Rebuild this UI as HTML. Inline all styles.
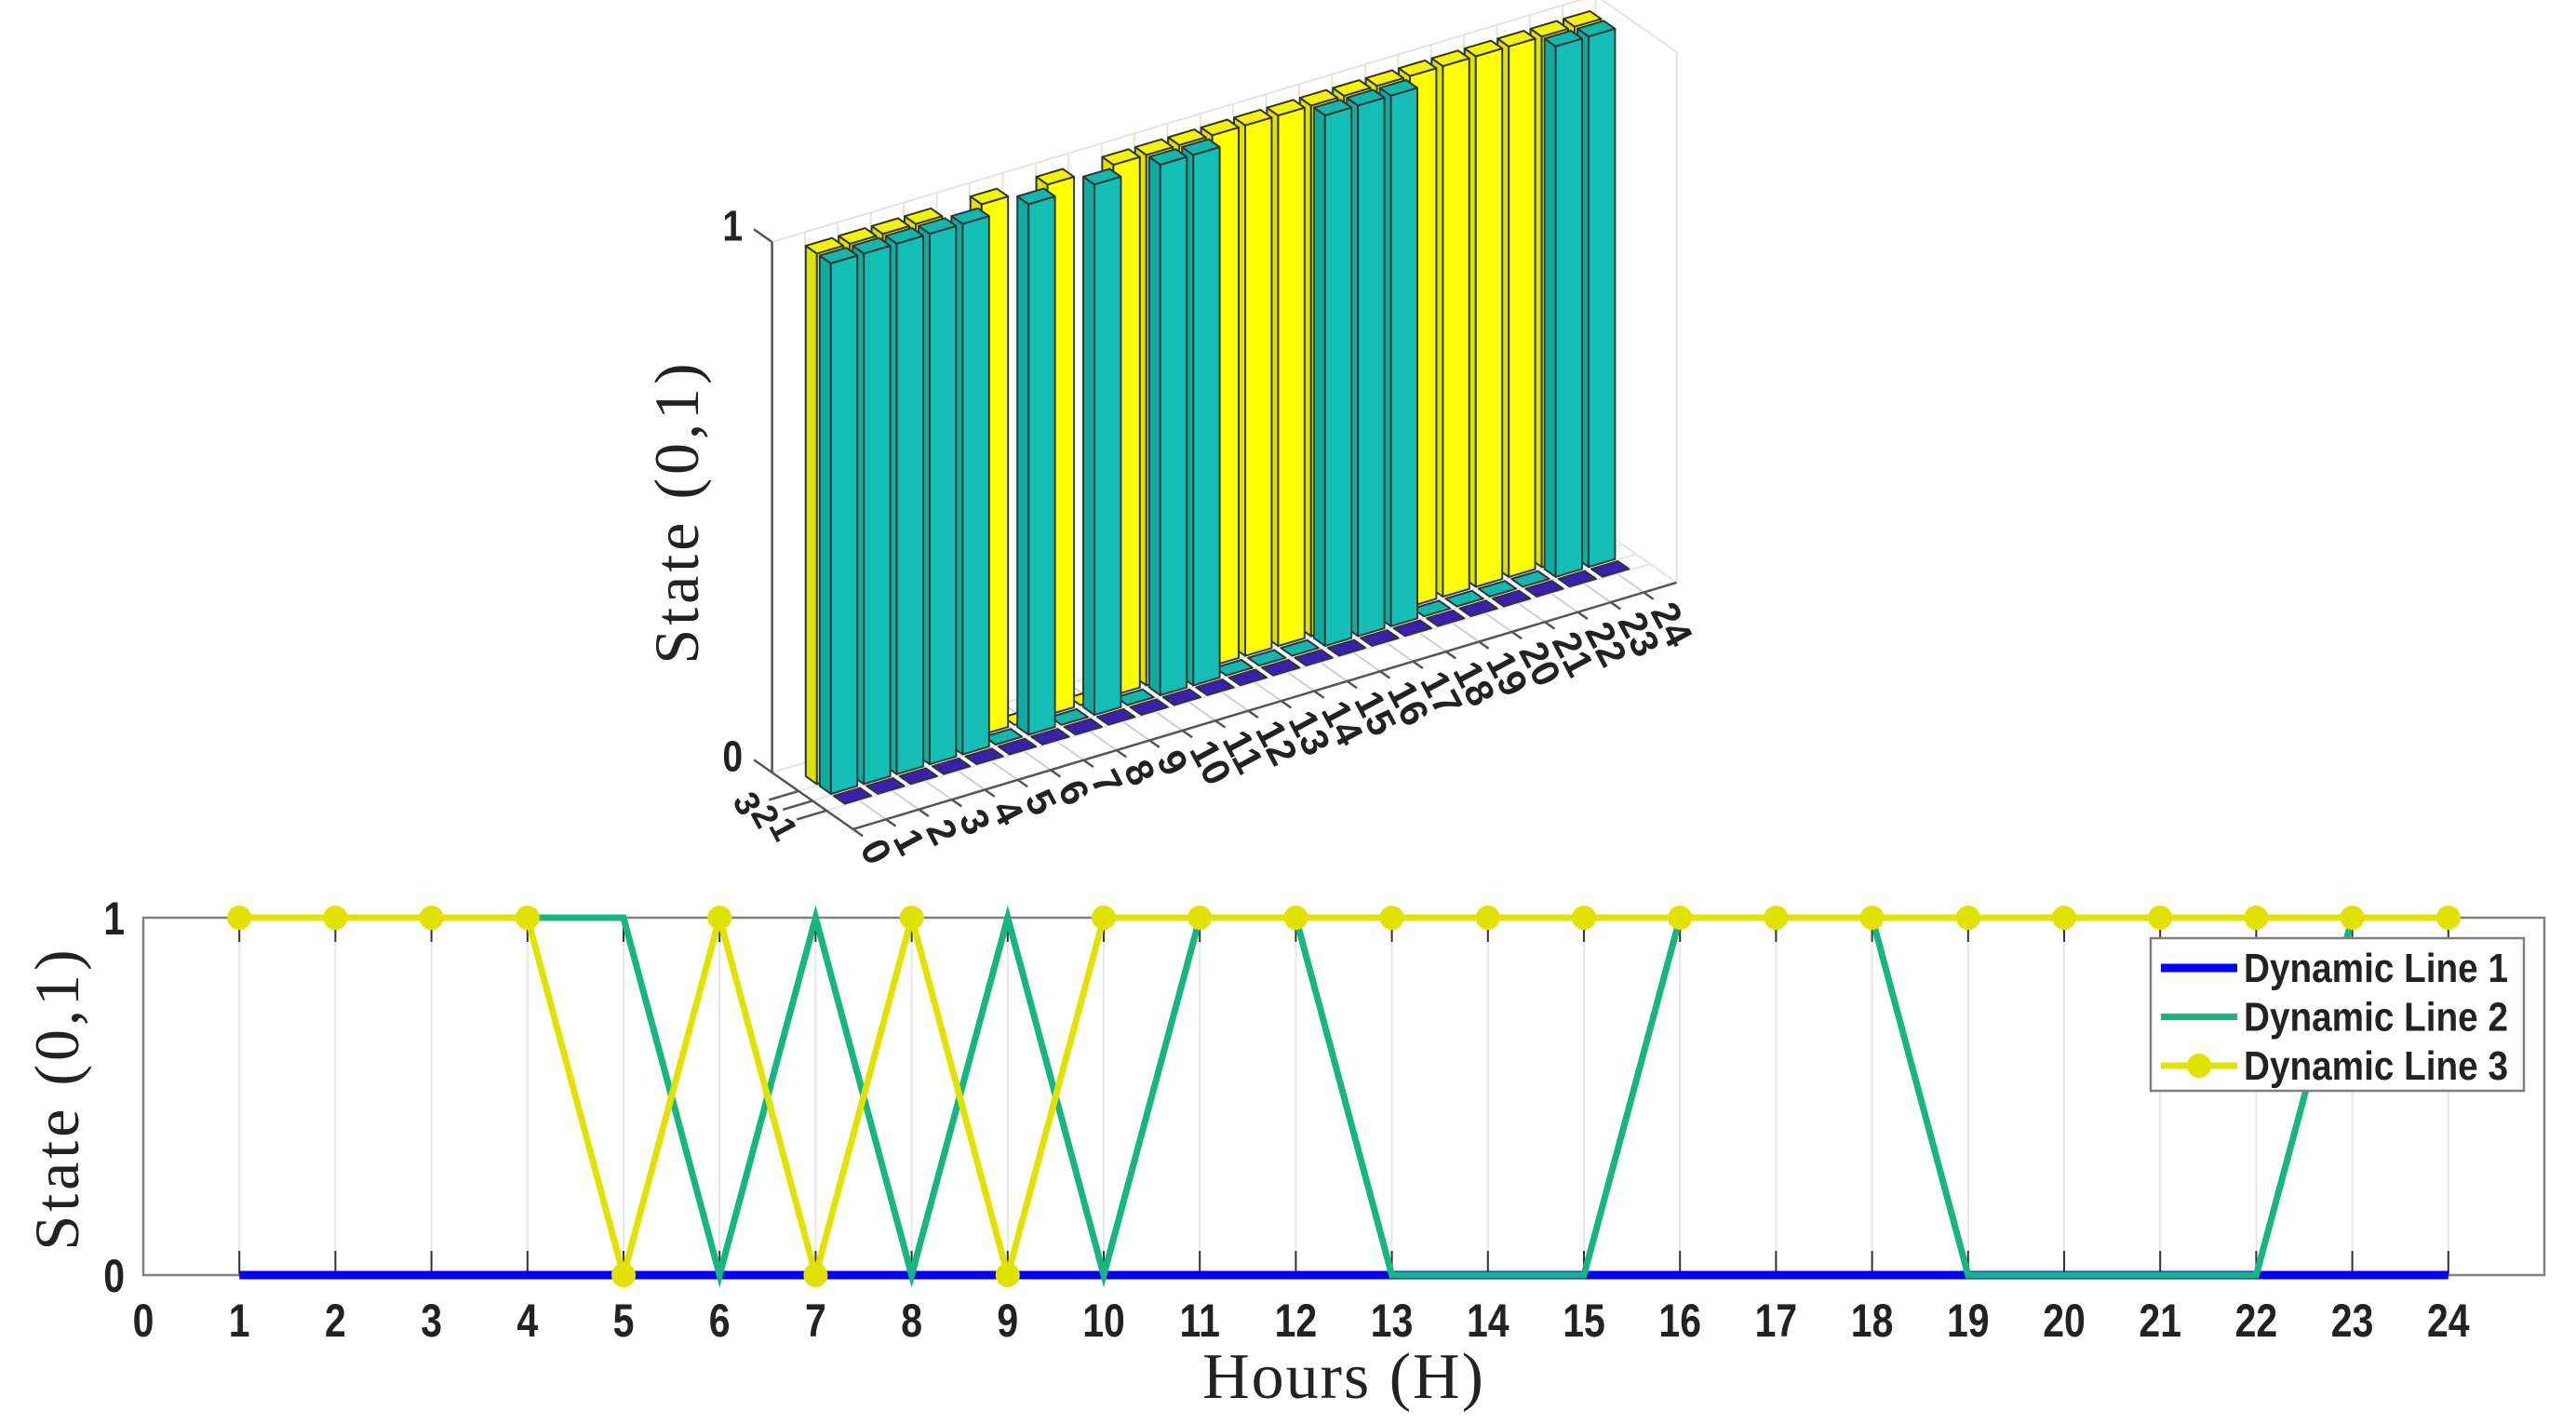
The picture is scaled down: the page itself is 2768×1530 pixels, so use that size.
<!DOCTYPE html>
<html><head><meta charset="utf-8">
<style>
html,body{margin:0;padding:0;background:#fff;}
svg{display:block;}
.tick{font-family:"Liberation Sans",sans-serif;font-weight:bold;fill:#222;}
.lab{font-family:"Liberation Serif",serif;fill:#222;}
</style></head>
<body>
<svg id="fig" width="2768" height="1530" viewBox="0 0 2768 1530" xmlns="http://www.w3.org/2000/svg">
  <g id="top3d"></g>
  <g id="bottom"></g>
</svg>
<script>
const hours = [1,2,3,4,5,6,7,8,9,10,11,12,13,14,15,16,17,18,19,20,21,22,23,24];
const line1 = [0,0,0,0,0,0,0,0,0,0,0,0,0,0,0,0,0,0,0,0,0,0,0,0];
const line2 = [1,1,1,1,1,0,1,0,1,0,1,1,0,0,0,1,1,1,0,0,0,0,1,1];
const line3 = [1,1,1,1,0,1,0,1,0,1,1,1,1,1,1,1,1,1,1,1,1,1,1,1];
const xTickLabels = ["0","1","2","3","4","5","6","7","8","9","10","11","12","13","14","15","16","17","18","19","20","21","22","23","24"];
const depthTickLabels = ["3","2","1"];
const seriesNames = ["Dynamic Line 1","Dynamic Line 2","Dynamic Line 3"];

const NS = "http://www.w3.org/2000/svg";
function mk(tag, attrs, parent){
  const e = document.createElementNS(NS, tag);
  for (const k in attrs) e.setAttribute(k, attrs[k]);
  parent.appendChild(e);
  return e;
}

/* ---------- 3D bar chart ---------- */
const g3 = document.getElementById('top3d');
const BX = 850.6, BY = 844.7, UX = 35.4, UY = -10.6, FX = 15, FY = 10.5, ZH = 570;
function P(h, d, z){ return [BX + UX*h + FX*d, BY + UY*h + FY*d - ZH*z]; }
function pts(arr){ return arr.map(p => p[0].toFixed(1)+','+p[1].toFixed(1)).join(' '); }
const H0 = 0, H1 = 25, D0 = -1.4, D1 = 4.4;
const gridC = '#e3e3e3';
for (let h = 0; h <= 24; h++) {
  const a = P(h, D0, 0), b = P(h, D0, 1);
  const l = mk('line', {x1:a[0],y1:a[1],x2:b[0],y2:b[1],stroke:gridC,'stroke-width':2}, g3);
  
  
}
[[P(H0,D0,1),P(H1,D0,1)],[P(H1,D0,1),P(H1,D1,1)],[P(H1,D0,0),P(H1,D0,1)],[P(H1,D1,0),P(H1,D1,1)],[P(H0,D0,0),P(H1,D0,0)],[P(H1,D0,0),P(H1,D1,0)]].forEach(s => {
  const l = mk('line', {x1:s[0][0],y1:s[0][1],x2:s[1][0],y2:s[1][1],stroke:gridC,'stroke-width':2}, g3);
  
  
});
for (let h = 0; h <= 24; h++) {
  const a = P(h, D0, 0), b = P(h, D1, 0);
  const l = mk('line', {x1:a[0],y1:a[1],x2:b[0],y2:b[1],stroke:'#d0d0d0','stroke-width':2}, g3);
  
  
}
for (let k = 0; k < 3; k++) {
  const a = P(H0, k+0.5, 0), b = P(H1, k+0.5, 0);
  const l = mk('line', {x1:a[0],y1:a[1],x2:b[0],y2:b[1],stroke:'#e6e6e6','stroke-width':2}, g3);
  
  
}
{
  const a = P(H0, D0, 0), b = P(H0, D0, 1);
  const l = mk('line', {x1:a[0],y1:a[1],x2:b[0],y2:b[1],stroke:'#555','stroke-width':2.5}, g3);
  
  
  [[0,"0"],[1,"1"]].forEach(t => {
    const p = P(H0, D0, t[0]), q = P(H0, D0-1.3, t[0]);
    const tl = mk('line', {x1:p[0],y1:p[1],x2:q[0],y2:q[1],stroke:'#555','stroke-width':2.5}, g3);
    
    
    const tx = mk('text', {x:0,y:0,'text-anchor':'end','font-size':46,'class':'tick',transform:`translate(${q[0]-12} ${q[1]+12}) scale(0.85 1)`}, g3);
    tx.textContent = t[1];
    
    
  });
}
[[P(H0,D1,0),P(H1,D1,0)],[P(H0,D0,0),P(H0,D1,0)]].forEach(s => {
  const l = mk('line', {x1:s[0][0],y1:s[0][1],x2:s[1][0],y2:s[1][1],stroke:'#555','stroke-width':2.5}, g3);
  
  
});
xTickLabels.forEach((lab, i) => {
  const a = P(i, D1, 0), b = P(i, D1+0.7, 0);
  const l = mk('line', {x1:a[0],y1:a[1],x2:b[0],y2:b[1],stroke:'#555','stroke-width':2.5}, g3);
  
  
  const p = P(i, D1+1.3, 0);
  const t = mk('text', {x:p[0],y:p[1],'font-size':42,'class':'tick','dominant-baseline':'central',transform:`rotate(62 ${p[0]} ${p[1]})`}, g3);
  t.textContent = lab;
  
  
});
depthTickLabels.forEach((lab, k) => {
  const a = P(H0, k+0.5, 0), b = P(H0-0.9, k+0.5, 0);
  const l = mk('line', {x1:a[0],y1:a[1],x2:b[0],y2:b[1],stroke:'#555','stroke-width':2.5}, g3);
  
  
  const p = P(H0-1.5, k*1.3+0.3, 0);
  const t = mk('text', {x:p[0],y:p[1],'font-size':38,'class':'tick','text-anchor':'middle','dominant-baseline':'central',transform:`rotate(62 ${p[0]} ${p[1]})`}, g3);
  t.textContent = lab;
  
  
});
const barSeries = [
  {vals: line3, d: 0, front:'#ffff00', side:'#e2e200', top:'#f4f400', name:'bar-line3'},
  {vals: line2, d: 1, front:'#13bfb5', side:'#10aaa1', top:'#12b8ae', name:'bar-line2'},
  {vals: line1, d: 2, front:'#3a22b8', side:'#2f1a9c', top:'#3b1fb2', name:'bar-line1'}
];
const bw = 0.4, bd = 0.4;
barSeries.forEach(s => {
  for (let i = hours.length - 1; i >= 0; i--) {
    const h = hours[i], v = s.vals[i], d = s.d;
    const g = mk('g', {}, g3);
    
    
    if (v > 0) {
      const left = [P(h-bw,d-bd,0),P(h-bw,d+bd,0),P(h-bw,d+bd,v),P(h-bw,d-bd,v)];
      const front = [P(h-bw,d+bd,0),P(h+bw,d+bd,0),P(h+bw,d+bd,v),P(h-bw,d+bd,v)];
      const pl = mk('polygon', {points:pts(left),fill:s.side,stroke:'#2b3a38','stroke-width':2,'stroke-linejoin':'round'}, g);
      
      
      const pf = mk('polygon', {points:pts(front),fill:s.front,stroke:'#2b3a38','stroke-width':2,'stroke-linejoin':'round'}, g);
      
      
    }
    const top = [P(h-bw,d-bd,v),P(h+bw,d-bd,v),P(h+bw,d+bd,v),P(h-bw,d+bd,v)];
    const pt = mk('polygon', {points:pts(top),fill:s.top,stroke:'#333','stroke-width':2,'stroke-linejoin':'round'}, g);
    
    
  }
});
{
  const t = mk('text', {x:0,y:0,'font-size':68,'class':'lab','text-anchor':'middle','letter-spacing':4,transform:'translate(750 550) rotate(-90)'}, g3);
  t.textContent = 'State (0,1)';
  
  
}

/* ---------- 2D line chart ---------- */
const g2 = document.getElementById('bottom');
const XL = 154, XS = 103.2, Y0 = 1370, Y1 = 986;
function xs(h){ return XL + h*XS; }
function ys(v){ return Y0 - v*(Y0-Y1); }
for (let h = 1; h <= 24; h++) {
  const l = mk('line', {x1:xs(h),y1:Y1,x2:xs(h),y2:Y0,stroke:'#e6e6e6','stroke-width':2}, g2);
  
  
  const t1 = mk('line', {x1:xs(h),y1:Y0,x2:xs(h),y2:Y0-26,stroke:'#333','stroke-width':2}, g2);
  
  
  const t2 = mk('line', {x1:xs(h),y1:Y1,x2:xs(h),y2:Y1+26,stroke:'#333','stroke-width':2}, g2);
  
  
}
{
  const r = mk('rect', {x:XL,y:Y1,width:xs(25)-XL,height:Y0-Y1,fill:'none',stroke:'#808080','stroke-width':2.5}, g2);
  
  
}
xTickLabels.forEach((lab, i) => {
  const t = mk('text', {x:0,y:0,'font-size':50,'class':'tick','text-anchor':'middle',transform:`translate(${xs(i)} 1436) scale(0.82 1)`}, g2);
  t.textContent = lab;
  
  
});
[[0,"0"],[1,"1"]].forEach(t => {
  const tx = mk('text', {x:0,y:0,'font-size':50,'class':'tick','text-anchor':'end',transform:`translate(134 ${ys(t[0])+18}) scale(0.82 1)`}, g2);
  tx.textContent = t[1];
  
  
});
const lineColors = ['#0000ff','#16b582','#e2e200'];
[line1, line2, line3].forEach((vals, k) => {
  const d = vals.map((v, i) => (i ? 'L' : 'M') + xs(hours[i]) + ',' + ys(v)).join(' ');
  const p = mk('path', {d:d,fill:'none',stroke:lineColors[k],'stroke-width':k===0?9:7,'stroke-linejoin':'miter'}, g2);
  
  
  if (k === 2) {
    vals.forEach((v, i) => {
      const c = mk('circle', {cx:xs(hours[i]),cy:ys(v),r:13,fill:lineColors[k]}, g2);
      
      
    });
  }
});
{
  const lg = mk('g', {}, g2);
  
  
  const r = mk('rect', {x:2311,y:1008,width:401,height:164,fill:'#fff',stroke:'#808080','stroke-width':2.5}, lg);
  
  
  seriesNames.forEach((n, k) => {
    const y = 1040 + k*52.5;
    const e = mk('g', {}, lg);
    
    
    mk('line', {x1:2322,y1:y,x2:2404,y2:y,stroke:lineColors[k],'stroke-width':k===0?9:7}, e);
    if (k === 2) mk('circle', {cx:2363,cy:y,r:13,fill:lineColors[k]}, e);
    const t = mk('text', {x:0,y:0,'font-size':44,'class':'tick',transform:`translate(2411 ${y+15}) scale(0.88 1)`}, e);
    t.textContent = n;
  });
}
{
  const t = mk('text', {x:1444,y:1502,'font-size':70,'class':'lab','text-anchor':'middle','letter-spacing':2}, g2);
  t.textContent = 'Hours (H)';
  
  
  const t2 = mk('text', {x:0,y:0,'font-size':68,'class':'lab','text-anchor':'middle','letter-spacing':4,transform:'translate(84 1180) rotate(-90)'}, g2);
  t2.textContent = 'State (0,1)';
  
  
}
</script>
</body></html>
